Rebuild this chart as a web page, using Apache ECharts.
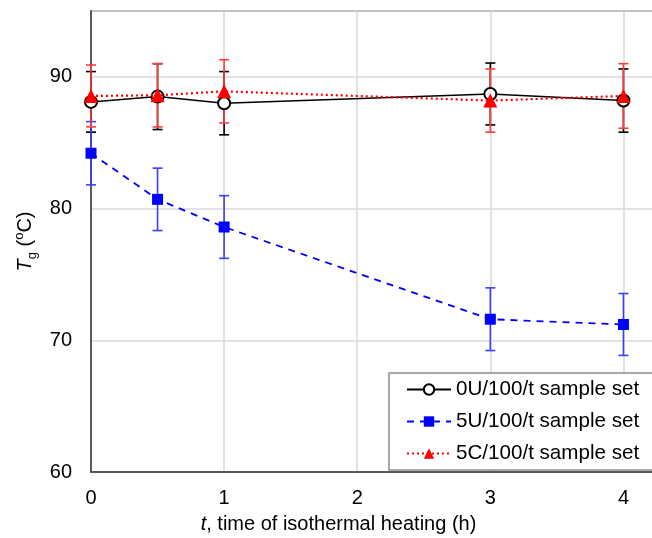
<!DOCTYPE html>
<html>
<head>
<meta charset="utf-8">
<script src="https://cdn.jsdelivr.net/npm/echarts@6/dist/echarts.min.js"></script>
<style>
html,body{margin:0;padding:0;background:#fff;}
#chart{width:652px;height:538px;}
</style>
</head>
<body>
<div id="chart"></div>
<script>
// Data
var timeH = [0, 0.5, 1, 3, 4];
var names = ['0U/100/t sample set', '5U/100/t sample set', '5C/100/t sample set'];
var tg0U = [88.1, 88.5, 88.0, 88.7, 88.2];
var err0U = [2.3, 2.5, 2.4, 2.35, 2.4];
var tg5U = [84.2, 80.7, 78.6, 71.6, 71.2];
var err5U = [2.4, 2.37, 2.38, 2.38, 2.35];
var tg5C = [88.55, 88.6, 88.9, 88.2, 88.55];
var err5C = [2.35, 2.4, 2.4, 2.4, 2.45];
var xTicks = [0, 1, 2, 3, 4];
var yTicks = [60, 70, 80, 90];

function pts(vals) { return timeH.map(function (t, i) { return [t, vals[i]]; }); }
function bars(vals, errs) { return timeH.map(function (t, i) { return [t, vals[i] - errs[i], vals[i] + errs[i]]; }); }

function errSeries(vals, errs, color, z) {
  return {
    type: 'custom',
    silent: true,
    z: z,
    data: bars(vals, errs),
    encode: { x: 0, y: [1, 2] },
    renderItem: function (params, api) {
      var lo = api.coord([api.value(0), api.value(1)]);
      var hi = api.coord([api.value(0), api.value(2)]);
      var w = 5;
      var st = { stroke: color, lineWidth: 1.6 };
      return {
        type: 'group',
        children: [
          { type: 'line', shape: { x1: lo[0], y1: lo[1], x2: hi[0], y2: hi[1] }, style: st },
          { type: 'line', shape: { x1: lo[0] - w, y1: lo[1], x2: lo[0] + w, y2: lo[1] }, style: st },
          { type: 'line', shape: { x1: hi[0] - w, y1: hi[1], x2: hi[0] + w, y2: hi[1] }, style: st }
        ]
      };
    }
  };
}

var chart = echarts.init(document.getElementById('chart'), null, { renderer: 'canvas' });
var font = 'Liberation Sans, Arial, sans-serif';
chart.setOption({
  animation: false,
  backgroundColor: '#fff',
  textStyle: { fontFamily: font },
  grid: { left: 91, top: 11, width: 599, height: 461, show: true, borderColor: '#595959', borderWidth: 1.5,
    containLabel: false, outerBoundsMode: 'none' },
  xAxis: {
    type: 'value', min: 0, max: 4.5, interval: 1,
    axisLine: { show: true, onZero: false, lineStyle: { color: '#595959', width: 2 } },
    axisTick: { show: false },
    axisLabel: { color: '#000', fontSize: 20, margin: 16, showMaxLabel: false, fontFamily: font,
      formatter: function (v) { return xTicks.indexOf(v) >= 0 ? String(v) : ''; } },
    splitLine: { show: true, lineStyle: { color: '#d9d9d9', width: 1.5 } },
    name: '{i|t}, time of isothermal heating (h)',
    nameLocation: 'middle', nameGap: 42,
    nameTextStyle: { color: '#000', fontSize: 20, fontFamily: font, padding: [0, 104, 0, 0],
      rich: { i: { fontStyle: 'italic', fontSize: 20, color: '#000', fontFamily: font } } }
  },
  yAxis: {
    type: 'value', min: 60, max: 95, interval: 10,
    axisLine: { show: true, lineStyle: { color: '#595959', width: 2 } },
    axisTick: { show: false },
    axisLabel: { color: '#000', fontSize: 20, margin: 19, showMaxLabel: false, fontFamily: font,
      formatter: function (v) { return yTicks.indexOf(v) >= 0 ? String(v) : ''; } },
    splitLine: { show: true, lineStyle: { color: '#d9d9d9', width: 1.5 } },
    name: '{i|T}{s|g} ({o|o}C)',
    nameLocation: 'middle', nameGap: 52,
    nameTextStyle: { color: '#000', fontSize: 20, fontFamily: font,
      rich: {
        i: { fontStyle: 'italic', fontSize: 20, lineHeight: 26, color: '#000', fontFamily: font },
        s: { fontSize: 13, lineHeight: 14, verticalAlign: 'bottom', color: '#000', fontFamily: font },
        o: { fontSize: 13, lineHeight: 14, verticalAlign: 'top', color: '#000', fontFamily: font }
      } }
  },
  legend: {
    left: 389, top: 373, orient: 'vertical',
    backgroundColor: '#fff', borderColor: '#8c8c8c', borderWidth: 1.5, borderRadius: 0,
    padding: [6, 40, 6, 17],
    itemGap: 11, itemWidth: 44, itemHeight: 13,
    textStyle: { color: '#000', fontSize: 20.6, fontFamily: font, padding: [0, 0, 0, 0] },
    data: names
  },
  series: [
    errSeries(tg0U, err0U, '#000000', 2),
    errSeries(tg5U, err5U, '#3d3dff', 2),
    errSeries(tg5C, err5C, '#ff3d3d', 3),
    {
      name: names[0], type: 'line', data: pts(tg0U), z: 4,
      symbol: 'circle', symbolSize: 12,
      itemStyle: { color: '#fff', borderColor: '#000', borderWidth: 2 },
      lineStyle: { color: '#000', width: 1.5, type: 'solid' }
    },
    {
      name: names[1], type: 'line', data: pts(tg5U), z: 5,
      symbol: 'rect', symbolSize: 11,
      itemStyle: { color: '#0000ff', borderColor: '#0000ff', borderWidth: 0 },
      lineStyle: { color: '#0000ff', width: 1.8, type: [7, 6] }
    },
    {
      name: names[2], type: 'line', data: pts(tg5C), z: 6,
      symbol: 'triangle', symbolSize: 14,
      itemStyle: { color: '#ff0000', borderWidth: 0 },
      lineStyle: { color: '#ff0000', width: 2.2, type: [2, 3] }
    }
  ]
});
</script>
</body>
</html>
